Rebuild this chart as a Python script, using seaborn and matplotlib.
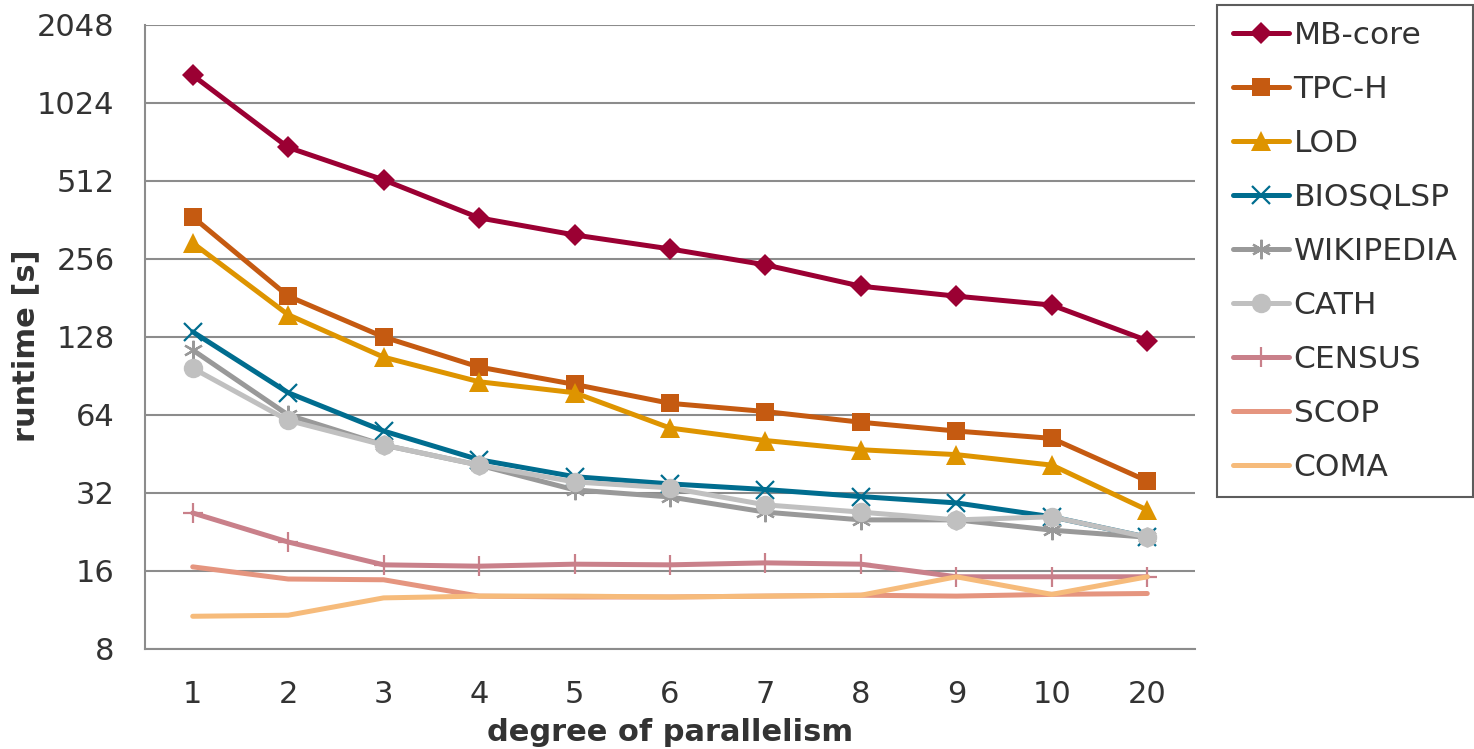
import matplotlib
matplotlib.use("Agg")
import matplotlib.pyplot as plt
import pandas as pd
import seaborn as sns
from matplotlib.ticker import FixedLocator, NullFormatter

# degree of parallelism (categorical axis)
degrees = ["1", "2", "3", "4", "5", "6", "7", "8", "9", "10", "20"]

# runtime [s] per dataset
mb_core = [1310, 690, 517, 369, 317, 280, 243, 201, 184, 170, 124]
tpc_h = [372, 184, 128, 98, 84, 71, 66, 60, 55.5, 52, 35.6]
lod = [295, 156, 107, 86, 78, 57, 51, 47, 45, 41, 27.5]
biosqlsp = [134, 78, 55.5, 43, 37, 34.7, 33, 31, 29.3, 25.9, 21.6]
wikipedia = [114, 64, 49, 41, 32.9, 30.9, 27, 25.2, 25.2, 23, 21.6]
cath = [97, 61, 49, 41, 35.3, 33.5, 28.8, 27, 25.2, 25.9, 21.6]
census = [26.8, 20.7, 16.9, 16.7, 17.0, 16.9, 17.2, 17.0, 15.2, 15.2, 15.2]
scop = [16.6, 14.9, 14.8, 12.8, 12.7, 12.7, 12.8, 12.9, 12.8, 13.0, 13.1]
coma = [10.7, 10.8, 12.6, 12.8, 12.8, 12.7, 12.8, 12.9, 15.2, 13.0, 15.2]

series = {
    "MB-core": mb_core,
    "TPC-H": tpc_h,
    "LOD": lod,
    "BIOSQLSP": biosqlsp,
    "WIKIPEDIA": wikipedia,
    "CATH": cath,
    "CENSUS": census,
    "SCOP": scop,
    "COMA": coma,
}

colors = {
    "MB-core": "#9b0033",
    "TPC-H": "#c55a11",
    "LOD": "#de9400",
    "BIOSQLSP": "#006d8f",
    "WIKIPEDIA": "#999999",
    "CATH": "#c0c0c0",
    "CENSUS": "#c9808a",
    "SCOP": "#e5957f",
    "COMA": "#f6bb7b",
}
# marker, size
markers = {
    "MB-core": ("D", 11),
    "TPC-H": ("s", 13),
    "LOD": ("^", 14),
    "BIOSQLSP": ("x", 13),
    "WIKIPEDIA": ((6, 2, 0), 14),
    "CATH": ("o", 14),
    "CENSUS": ("+", 14),
    "SCOP": (None, 0),
    "COMA": (None, 0),
}

rows = []
for name, vals in series.items():
    for i, v in enumerate(vals):
        rows.append({"pos": i, "degree": degrees[i], "runtime": v, "dataset": name})
df = pd.DataFrame(rows)

sns.set_theme(style="white")
plt.rcParams["font.family"] = ["DejaVu Sans"]

fig = plt.figure(figsize=(14.74, 7.49), dpi=100)
ax = fig.add_axes([145 / 1474, 100 / 749, 1050 / 1474, 624 / 749])

for name in series:
    sub = df[df["dataset"] == name]
    m, ms = markers[name]
    kw = {}
    if m is not None:
        kw = dict(marker=m, markersize=ms, markeredgewidth=1.6 if m in ("x", "+") or isinstance(m, tuple) else 0,
                  markeredgecolor=colors[name])
    sns.lineplot(data=sub, x="pos", y="runtime", color=colors[name], linewidth=3.6,
                 label=name, ax=ax, **kw)

ax.set_yscale("log", base=2)
ax.set_ylim(8, 2048)
yt = [8, 16, 32, 64, 128, 256, 512, 1024, 2048]
ax.set_yticks(yt)
ax.set_yticklabels([str(v) for v in yt])
ax.yaxis.set_minor_locator(FixedLocator([]))
ax.yaxis.set_minor_formatter(NullFormatter())

ax.set_xlim(-0.5, len(degrees) - 0.5)
ax.set_xticks(range(len(degrees)))
ax.set_xticklabels(degrees)
ax.xaxis.set_minor_locator(FixedLocator([i - 0.5 for i in range(len(degrees) + 1)]))

ax.grid(axis="y", color="#8c8c8c", linewidth=1.5)
ax.set_axisbelow(True)
for side in ["top", "right"]:
    ax.spines[side].set_visible(False)
for side in ["left", "bottom"]:
    ax.spines[side].set_color("#8c8c8c")
    ax.spines[side].set_linewidth(1.5)

ax.tick_params(axis="x", which="major", length=0, pad=22, labelsize=22, colors="#333333")
ax.tick_params(axis="x", which="minor", length=8, width=1.5, color="#8c8c8c", direction="out")
ax.tick_params(axis="y", which="major", length=8, width=1.5, color="#8c8c8c", direction="out",
               labelsize=22, labelcolor="#333333", pad=14)

ax.set_xlabel("degree of parallelism", fontsize=22, fontweight="bold", color="#333333", labelpad=7)
ax.set_ylabel("runtime [s]", fontsize=22, fontweight="bold", color="#333333")
ax.yaxis.set_label_coords(-0.1, 0.486)

leg = ax.legend(loc="upper left", bbox_to_anchor=(1217 / 1474, 744 / 749), bbox_transform=fig.transFigure,
                frameon=True, fancybox=False, fontsize=22.5, labelspacing=0.8, handlelength=1.8,
                handletextpad=0.15, borderpad=0.5, borderaxespad=0)
leg.get_frame().set_edgecolor("#333333")
leg.get_frame().set_linewidth(1.5)
for t in leg.get_texts():
    t.set_color("#333333")

plt.savefig("out.png", dpi=100)
